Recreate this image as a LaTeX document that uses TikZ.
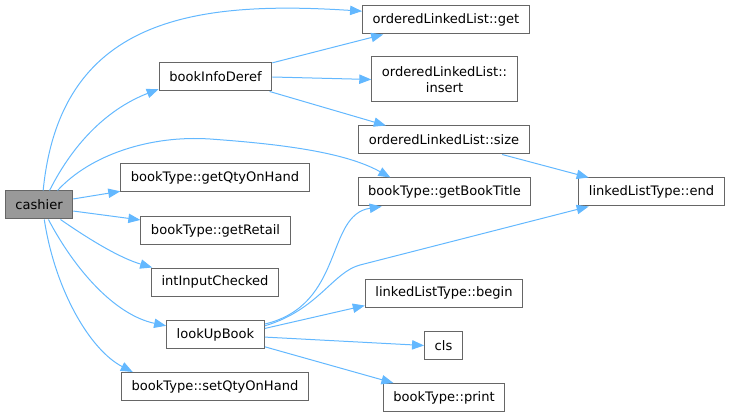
\documentclass[tikz,border=0pt]{standalone}
\usepackage{fontspec}
\setmainfont{DejaVu Sans}
\usetikzlibrary{arrows.meta}
\definecolor{edge}{HTML}{63B8FF}
\definecolor{frame}{HTML}{666666}
\definecolor{rootgray}{HTML}{999999}
\tikzset{>={Triangle[length=9pt,width=7pt]},
  fn/.style={draw=frame,fill=white,line width=0.75pt,minimum height=21pt,inner xsep=7.6pt,inner ysep=0pt,font=\fontsize{9.8}{12.5}\selectfont},
  rootfn/.style={fn,fill=rootgray},
  call/.style={draw=edge,line width=0.75pt,->}}
\begin{document}
\begin{tikzpicture}[x=0.75pt,y=-0.75pt]
  \useasboundingbox (0,0) rectangle (730,416);
  \node[rootfn] (cashier) at (39,205) {cashier};
  \node[fn] (deref) at (215.5,77) {bookInfoDeref};
  \node[fn] (qty) at (215,178) {bookType::getQtyOnHand};
  \node[fn] (retail) at (215.5,230.5) {bookType::getRetail};
  \node[fn] (input) at (215,282) {intInputChecked};
  \node[fn] (lookup) at (215.5,334.5) {lookUpBook};
  \node[fn] (setqty) at (215,386.5) {bookType::setQtyOnHand};
  \node[fn] (get) at (446,20) {orderedLinkedList::get};
  \node[fn,align=center,minimum height=33.75pt] (insert) at (444.5,79.5) {orderedLinkedList::\\insert};
  \node[fn] (size) at (444,140) {orderedLinkedList::size};
  \node[fn] (title) at (444.5,192) {bookType::getBookTitle};
  \node[fn] (lbegin) at (444,293) {linkedListType::begin};
  \node[fn] (cls) at (443.5,345.5) {cls};
  \node[fn] (print) at (444,397.5) {bookType::print};
  \node[fn] (lend) at (651.5,192) {linkedListType::end};
  \draw[call] (cashier.74) .. controls (60,20) and (190,0) .. (get.174);
  \draw[call] (cashier.54) .. controls (75,140) and (110,108) .. (deref.192);
  \draw[call] (cashier.38) .. controls (90,155) and (150,135) .. (210,139) .. controls (280,144) and (345,152) .. (title.165);
  \draw[call] (cashier.10) -- (qty.188);
  \draw[call] (cashier.-10) -- (retail.172);
  \draw[call] (cashier.-34) .. controls (90,240) and (120,258) .. (input.167);
  \draw[call] (cashier.-57) .. controls (75,270) and (115,315) .. (lookup.170);
  \draw[call] (cashier.-70) .. controls (55,290) and (90,350) .. (setqty.170);
  \draw[call] (deref.14) -- (get.193);
  \draw[call] (deref.east) -- (insert.west);
  \draw[call] (deref.-15) -- (size.166);
  \draw[call] (size.-14) -- (lend.167);
  \draw[call] (lookup.12) .. controls (345,305) and (325,215) .. (title.193);
  \draw[call] (lookup.10) .. controls (318,310) and (333,272) .. (360,265) -- (lend.193);
  \draw[call] (lookup.7) -- (lbegin.189);
  \draw[call] (lookup.-3) -- (cls.west);
  \draw[call] (lookup.-14) -- (print.164);
\end{tikzpicture}
\end{document}
